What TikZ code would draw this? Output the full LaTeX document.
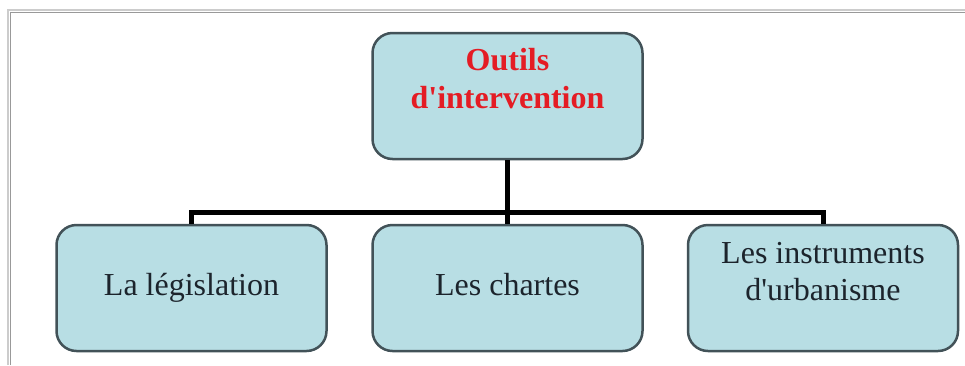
\documentclass[tikz,border=0pt]{standalone}
\usepackage{fontspec}
\setmainfont{Liberation Serif}
\definecolor{boxfill}{RGB}{184,222,228}
\definecolor{boxline}{RGB}{66,82,88}
\definecolor{titlered}{RGB}{228,28,36}
\definecolor{textdark}{RGB}{28,36,44}
\begin{document}
\begin{tikzpicture}[x=1pt,y=-1pt,
    box/.style={draw=boxline,line width=2.5pt,fill=boxfill,rounded corners=20pt,
      minimum width=270pt,minimum height=126pt,align=center,
      font=\fontsize{32}{37}\selectfont,text=textdark,
      execute at begin node=\strut,execute at end node=\strut},
    link/.style={line width=5pt,line join=miter}]
  \useasboundingbox (0,0) rectangle (965,365);
  \draw[gray!40,line width=2pt] (8,365) -- (8,10) -- (965,10);
  \draw[gray!80,line width=1pt] (10.5,365) -- (10.5,12.5) -- (965,12.5);
  \node[box,text=titlered,font=\fontsize{32}{38}\selectfont\bfseries](T) at (507.5,96){Outils\\d\textquotesingle intervention\\[-14pt]\mbox{}};
  \foreach \i/\x/\t in {1/191.5/La législation, 2/507.5/Les chartes, 3/823/{Les instruments\\d\textquotesingle urbanisme\\[-14pt]\mbox{}}}{
    \node[box](C\i) at (\x,288){\t};
  }
  \coordinate (bar) at (0,212);
  \draw[link] (T.south) -- (C2.north);
  \draw[link] (C1.north) |- (bar -| C3.north) -- (C3.north);
\end{tikzpicture}
\end{document}
